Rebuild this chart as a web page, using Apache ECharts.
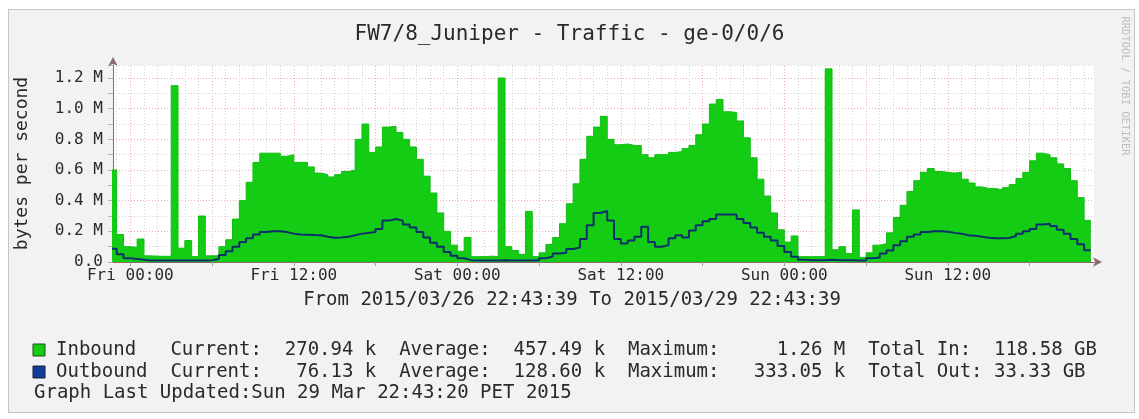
<!DOCTYPE html>
<html>
<head>
    <meta charset="utf-8"/>
    <title>FW7/8_Juniper - Traffic - ge-0/0/6</title>
    <script src="https://cdn.jsdelivr.net/npm/echarts@6/dist/echarts.min.js"></script>
    <style>
        html, body { margin: 0; padding: 0; background: #fff; }
        #frame { position: absolute; left: 8px; top: 9px; width: 1125px; height: 402px;
                 background: #f2f2f2; border: 1px solid #c6c6c6; }
        #main { position: absolute; left: 0; top: 0; width: 1139px; height: 419px; }
    </style>
</head>
<body>
<div id="frame"></div>
<div id="main"></div>
<script type="text/javascript">
    // time in hours from Fri 2015/03/27 00:00, one value per 30 min rrd step
    var startHour = -1.5;
    var stepHours = 0.5;
    var viewMin = -1.2725;   // 2015/03/26 22:43:39
    var viewMax = 70.7275;   // 2015/03/29 22:43:39

    // bytes per second, in k
    var inbound = [
        600, 600, 180,
        100, 95, 150, 40, 38, 37, 37, 1150, 90, 140, 35, 300,
        40, 40, 100, 145, 280, 400, 520, 650, 710, 710, 710, 690,
        700, 650, 650, 620, 580, 570, 555, 570, 590, 600, 800, 900,
        715, 750, 880, 885, 845, 800, 750, 670, 560, 450, 320, 200,
        110, 70, 160, 35, 35, 38, 35, 1200, 100, 75, 50, 330,
        35, 60, 115, 160, 250, 380, 510, 670, 820, 880, 950, 800,
        765, 770, 760, 760, 700, 680, 700, 700, 715, 720, 740, 760,
        830, 900, 1030, 1060, 980, 975, 920, 810, 680, 540, 430, 320,
        210, 130, 170, 35, 35, 35, 35, 1260, 80, 100, 55, 340,
        30, 60, 110, 120, 190, 290, 370, 460, 530, 585, 610, 590,
        585, 580, 585, 540, 515, 490, 480, 480, 470, 485, 505, 545,
        585, 660, 710, 700, 680, 640, 610, 530, 420, 271
    ];
    var outbound = [
        87, 87, 50,
        25, 20, 15, 10, 10, 10, 10, 10, 10, 10, 10, 10,
        12, 20, 45, 70, 100, 130, 155, 180, 195, 200, 200, 195,
        185, 180, 178, 176, 175, 165, 158, 160, 165, 175, 185, 190,
        195, 215, 270, 280, 270, 245, 225, 195, 160, 125, 100, 65,
        40, 25, 12, 10, 10, 10, 10, 12, 10, 10, 10, 10,
        10, 25, 35, 55, 60, 85, 95, 150, 240, 320, 333, 270,
        150, 120, 140, 165, 230, 130, 100, 110, 155, 175, 160, 205,
        240, 265, 280, 310, 310, 310, 280, 255, 225, 190, 165, 140,
        105, 65, 35, 15, 12, 12, 12, 15, 12, 12, 12, 10,
        10, 25, 30, 55, 75, 110, 135, 165, 180, 195, 200, 200,
        198, 190, 185, 175, 172, 165, 158, 155, 155, 157, 170, 185,
        200, 215, 245, 250, 235, 210, 185, 150, 115, 76
    ];

    var tickHours = [0, 12, 24, 36, 48, 60];
    var tickLabels = ['Fri 00:00', 'Fri 12:00', 'Sat 00:00', 'Sat 12:00', 'Sun 00:00', 'Sun 12:00'];
    var sixHourTicks = [0, 6, 12, 18, 24, 30, 36, 42, 48, 54, 60, 66];

    var legendIn  = 'Inbound   Current:  270.94 k  Average:  457.49 k  Maximum:     1.26 M  Total In:  118.58 GB';
    var legendOut = 'Outbound  Current:   76.13 k  Average:  128.60 k  Maximum:   333.05 k  Total Out: 33.33 GB';
    var updated = 'Graph Last Updated:Sun 29 Mar 22:43:20 PET 2015';
    var rangeText = 'From 2015/03/26 22:43:39 To 2015/03/29 22:43:39';

    var mono = '"DejaVu Sans Mono", monospace';
    var textColor = '#2a2a2a';
    var majorGrid = '#efb0b0';
    var minorGrid = '#d2d2d2';
    var axisColor = '#8a6a6a';

    function toPairs(values) {
        var out = [];
        for (var i = 0; i < values.length; i++) {
            out.push([startHour + i * stepHours, values[i]]);
        }
        return out;
    }

    // vertical grid: every hour, red every 6 hours
    var hourLines = [];
    for (var h = -1; h <= 70; h++) {
        var major = (h % 6 === 0);
        hourLines.push({
            xAxis: h,
            lineStyle: { color: major ? majorGrid : minorGrid, type: [1, 2], width: 1 }
        });
    }

    var myChart = echarts.init(document.getElementById('main'));

    var option = {
        animation: false,
        backgroundColor: 'transparent',
        title: {
            text: 'FW7/8_Juniper - Traffic - ge-0/0/6',
            left: 'center',
            top: 19,
            textStyle: { fontFamily: mono, fontSize: 21, fontWeight: 'normal', color: textColor }
        },
        grid: {
            left: 113, right: 45, top: 65, bottom: 157,
            show: true, backgroundColor: '#ffffff', borderWidth: 0,
            containLabel: false, outerBoundsMode: 'none'
        },
        xAxis: {
            type: 'value',
            min: viewMin,
            max: viewMax,
            axisLine: {
                onZero: false,
                lineStyle: { color: axisColor, width: 1 },
                symbol: ['none', 'arrow'], symbolSize: [7, 9], symbolOffset: [0, 8]
            },
            axisTick: { show: true, customValues: sixHourTicks, length: 4, lineStyle: { color: '#a0a0a0' } },
            axisLabel: {
                customValues: tickHours,
                margin: 6,
                fontFamily: mono, fontSize: 16, color: textColor,
                formatter: function (v) {
                    var i = tickHours.indexOf(Math.round(v));
                    return i < 0 ? '' : tickLabels[i];
                }
            },
            splitLine: { show: false }
        },
        yAxis: {
            type: 'value',
            min: 0,
            max: 1285,
            interval: 100,
            name: 'bytes per second',
            nameLocation: 'middle',
            nameRotate: 90,
            nameGap: 82,
            nameTextStyle: { fontFamily: mono, fontSize: 18, color: textColor },
            axisLine: {
                show: true,
                onZero: false,
                lineStyle: { color: axisColor, width: 1 },
                symbol: ['none', 'arrow'], symbolSize: [7, 9], symbolOffset: [0, 8]
            },
            axisTick: { show: true, length: 5, lineStyle: { color: '#d4a8a8' } },
            axisLabel: {
                margin: 10,
                fontFamily: mono, fontSize: 16, color: textColor,
                formatter: function (v) {
                    if (v === 0) return '0.0';
                    if (v % 200 !== 0) return '';
                    return (v / 1000).toFixed(1) + ' M';
                }
            },
            splitLine: { show: true, lineStyle: { color: [majorGrid, minorGrid], type: [1, 2], width: 1 } }
        },
        series: [
            {
                name: 'grid',
                type: 'line',
                data: [[viewMin, 0]],
                symbol: 'none',
                lineStyle: { width: 0, opacity: 0 },
                silent: true,
                z: 1,
                markLine: {
                    z: 1,
                    silent: true,
                    symbol: ['none', 'none'],
                    label: { show: false },
                    emphasis: { disabled: true },
                    animation: false,
                    data: hourLines
                }
            },
            {
                name: 'Inbound',
                type: 'line',
                step: 'start',
                symbol: 'none',
                data: toPairs(inbound),
                lineStyle: { color: '#12bd12', width: 1 },
                areaStyle: { color: '#14cc14', opacity: 1 },
                z: 3
            },
            {
                name: 'Outbound',
                type: 'line',
                step: 'start',
                symbol: 'none',
                data: toPairs(outbound),
                lineStyle: { color: '#0b2f6a', width: 2 },
                z: 4
            }
        ],
        graphic: [
            {
                type: 'text', x: 572, y: 300,
                style: { text: rangeText, font: '19px ' + mono, fill: textColor, textAlign: 'center', textVerticalAlign: 'middle' }
            },
            {
                type: 'rect', shape: { x: 33, y: 344, width: 12, height: 12 },
                style: { fill: '#14cc14', stroke: '#1d4d1d', lineWidth: 1 }
            },
            {
                type: 'text', x: 56, y: 350,
                style: { text: legendIn, font: '19px ' + mono, fill: textColor, textAlign: 'left', textVerticalAlign: 'middle' }
            },
            {
                type: 'rect', shape: { x: 33, y: 366, width: 12, height: 12 },
                style: { fill: '#123c99', stroke: '#1a1a3a', lineWidth: 1 }
            },
            {
                type: 'text', x: 56, y: 372,
                style: { text: legendOut, font: '19px ' + mono, fill: textColor, textAlign: 'left', textVerticalAlign: 'middle' }
            },
            {
                type: 'text', x: 34, y: 393,
                style: { text: updated, font: '19px ' + mono, fill: textColor, textAlign: 'left', textVerticalAlign: 'middle' }
            },
            {
                type: 'text', x: 1125, y: 86, rotation: -Math.PI / 2,
                style: { text: 'RRDTOOL / TOBI OETIKER', font: '10.5px ' + mono, fill: '#bdbdbd', textAlign: 'center', textVerticalAlign: 'middle' }
            }
        ]
    };

    myChart.setOption(option);
</script>
</body>
</html>
